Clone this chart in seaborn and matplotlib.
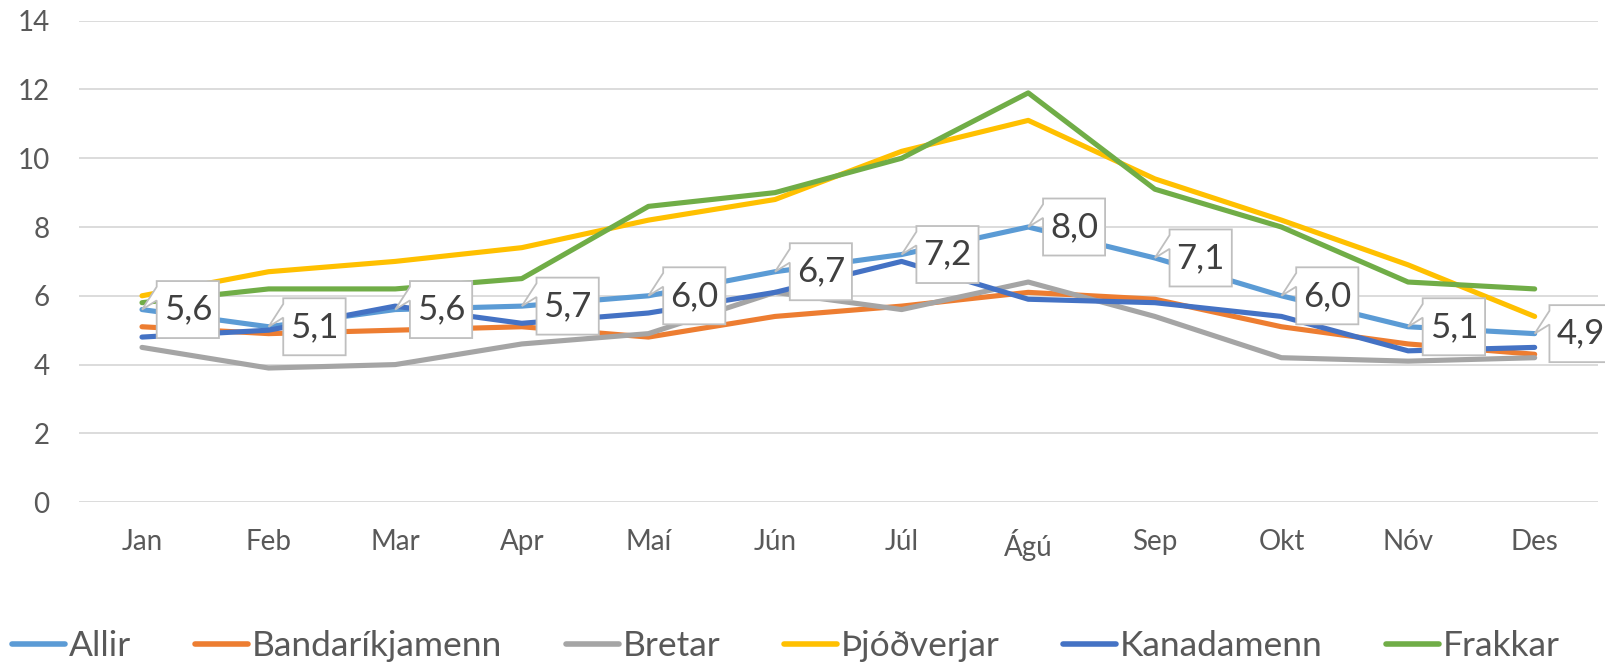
import numpy as np
import pandas as pd
import matplotlib.pyplot as plt
from matplotlib.path import Path
import seaborn as sns

# data
months = ["Jan", "Feb", "Mar", "Apr", "Maí", "Jún", "Júl", "Ágú", "Sep", "Okt", "Nóv", "Des"]
allir = [5.6, 5.1, 5.6, 5.7, 6.0, 6.7, 7.2, 8.0, 7.1, 6.0, 5.1, 4.9]
bandarikjamenn = [5.1, 4.9, 5.0, 5.1, 4.8, 5.4, 5.7, 6.1, 5.9, 5.1, 4.6, 4.3]
bretar = [4.5, 3.9, 4.0, 4.6, 4.9, 6.1, 5.6, 6.4, 5.4, 4.2, 4.1, 4.2]
thjodverjar = [6.0, 6.7, 7.0, 7.4, 8.2, 8.8, 10.2, 11.1, 9.4, 8.2, 6.9, 5.4]
kanadamenn = [4.8, 5.0, 5.7, 5.2, 5.5, 6.1, 7.0, 5.9, 5.8, 5.4, 4.4, 4.5]
frakkar = [5.8, 6.2, 6.2, 6.5, 8.6, 9.0, 10.0, 11.9, 9.1, 8.0, 6.4, 6.2]

series = {
    "Allir": allir,
    "Bandaríkjamenn": bandarikjamenn,
    "Bretar": bretar,
    "Þjóðverjar": thjodverjar,
    "Kanadamenn": kanadamenn,
    "Frakkar": frakkar,
}
colors = ["#5B9BD5", "#ED7D31", "#A5A5A5", "#FFC000", "#4472C4", "#70AD47"]

rows = []
for name, vals in series.items():
    for i, v in enumerate(vals):
        rows.append({"month": i, "value": v, "group": name})
df = pd.DataFrame(rows)

DPI = 100
OFFSET_PT = 33  # label centre sits this far right of the point
TIP_PX = OFFSET_PT * DPI / 72


def callout_box(x0, y0, width, height, mutation_size):
    # rectangle with a pointer on the left edge, like excel's callout labels
    px = 0.2 * mutation_size
    py = 0.36 * mutation_size
    cx = x0 + width / 2
    cy = y0 + height / 2
    l, b = x0 - px, y0 - py
    r, t = x0 + width + px, y0 + height + py
    h = t - b
    verts = [(l, b), (r, b), (r, t), (l, t),
             (l, t - 0.1 * h), (cx - TIP_PX, cy), (l, t - 0.34 * h), (l, b)]
    return Path(verts, closed=True)


sns.set_style("white")
plt.rcParams["font.family"] = ["Lato", "DejaVu Sans"]

fig = plt.figure(figsize=(16.06, 6.66), dpi=DPI)
ax = fig.add_axes([0.049, 0.246, 0.946, 0.723])

sns.lineplot(data=df, x="month", y="value", hue="group", palette=colors,
             linewidth=3.7, ax=ax, legend=False, solid_capstyle="round")

ax.set_xlim(-0.5, 11.5)
ax.set_ylim(0, 14)
ax.set_yticks(np.arange(0, 15, 2))
ax.set_xticks(range(12))
ax.set_xticklabels(months)
ax.grid(axis="y", color="#D9D9D9", linewidth=1.3)
ax.set_axisbelow(True)
for s in ax.spines.values():
    s.set_visible(False)
ax.tick_params(axis="both", length=0, labelsize=20, labelcolor="#595959")
ax.tick_params(axis="x", pad=19)
ax.tick_params(axis="y", pad=21)
ax.set_xlabel("")
ax.set_ylabel("")

# callout labels for Allir
for i, v in enumerate(allir):
    ax.annotate(f"{v:.1f}".replace(".", ","), xy=(i, v), xytext=(OFFSET_PT, 0),
                textcoords="offset points", ha="center", va="center",
                fontsize=25, color="#404040", annotation_clip=False,
                bbox=dict(boxstyle=callout_box, fc="white", ec="#BFBFBF", lw=1.3),
                zorder=5)

handles = [plt.Line2D([0], [0], color=c, lw=4, solid_capstyle="round") for c in colors]
fig.legend(handles, list(series.keys()), loc="center left", bbox_to_anchor=(0.0077, 0.03),
           ncol=6, frameon=False, fontsize=25.5, labelcolor="#595959", borderpad=0,
           borderaxespad=0, handlelength=1.5, handletextpad=0.1, columnspacing=1.8)

fig.savefig("out.png", dpi=DPI)
